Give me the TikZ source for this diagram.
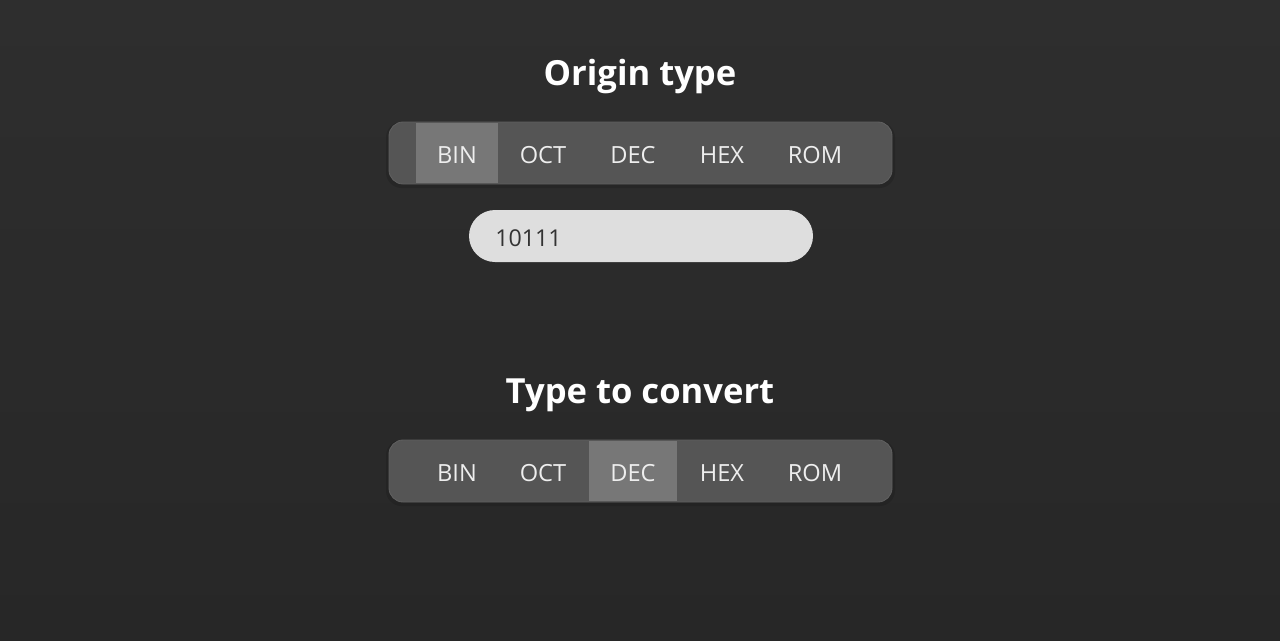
\documentclass[tikz,border=0pt]{standalone}
\usepackage{fontspec}
\setmainfont{Open Sans}
\usetikzlibrary{positioning}

\definecolor{bgtop}{HTML}{2E2E2E}
\definecolor{bgbot}{HTML}{272727}
\definecolor{barfill}{HTML}{555555}
\definecolor{barline}{HTML}{606060}
\definecolor{active}{HTML}{777777}
\definecolor{field}{HTML}{DEDEDE}
\definecolor{fieldtext}{HTML}{333333}
\definecolor{btntext}{HTML}{EEEEEE}

\newcommand{\px}{0.025cm}

\tikzset{
	title/.style={text=white, font=\bfseries\fontsize{24.6}{28}\selectfont, inner sep=0pt, anchor=base},
	bar/.style={fill=barfill, draw=barline, line width=0.6pt, rounded corners=10pt,
		minimum width=503*\px, minimum height=62*\px, inner sep=0pt},
	barshadow/.style={fill=black, opacity=0.12, rounded corners=11pt,
		minimum width=509*\px, minimum height=66*\px, inner sep=0pt},
	activebtn/.style={fill=active, minimum height=60*\px, inner sep=0pt},
	btn/.style={text=btntext, font=\fontsize{16.8}{20}\selectfont, inner sep=0pt, anchor=base},
	field/.style={fill=field, rounded corners=18.5pt,
		minimum width=344*\px, minimum height=52*\px, inner sep=0pt},
}

\begin{document}
\begin{tikzpicture}[x=\px, y=-\px]
	\shade[top color=bgtop, bottom color=bgbot] (0,0) rectangle (1280,640);
	\useasboundingbox (0,0) rectangle (1280,640);

	% origin type
	\node[title] (title1) at (640,85) {Origin type};
	\node[barshadow] (shadow1) at (640.5,155) {};
	\node[bar] (bar1) at (640.5,153) {};
	\node[activebtn, minimum width=82*\px] (on1) at (457,153) {};
	\node[btn] (bin1) at (457,163) {BIN};
	\node[btn] (oct1) at (543,163) {OCT};
	\node[btn] (dec1) at (633,163) {DEC};
	\node[btn] (hex1) at (722,163) {HEX};
	\node[btn] (rom1) at (815,163) {ROM};

	\node[field] (input) at (641,236) {};
	\node[text=fieldtext, font=\fontsize{16.5}{20}\selectfont, inner sep=0pt, anchor=base west] (value) at (495,246) {10111};

	% type to convert
	\node[title] (title2) at (640,403) {Type to convert};
	\node[barshadow] (shadow2) at (640.5,473) {};
	\node[bar] (bar2) at (640.5,471) {};
	\node[activebtn, minimum width=88*\px] (on2) at (633,471) {};
	\node[btn] (bin2) at (457,481) {BIN};
	\node[btn] (oct2) at (543,481) {OCT};
	\node[btn] (dec2) at (633,481) {DEC};
	\node[btn] (hex2) at (722,481) {HEX};
	\node[btn] (rom2) at (815,481) {ROM};
\end{tikzpicture}
\end{document}
